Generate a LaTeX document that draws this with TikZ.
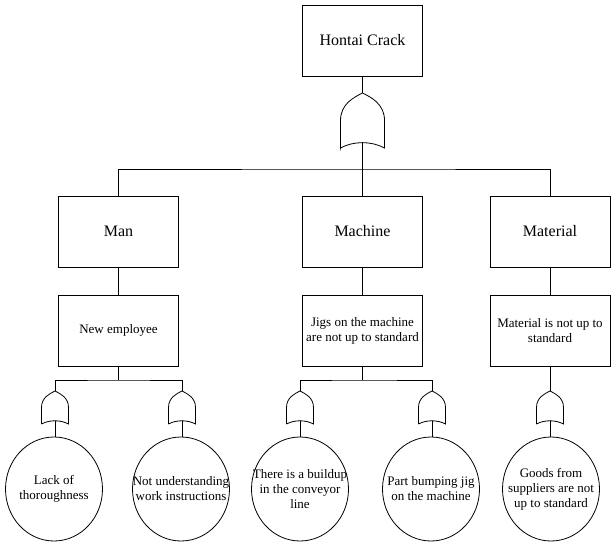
\documentclass[tikz,border=0pt]{standalone}
\usepackage{fontspec}
\setmainfont{Liberation Serif}
\usepackage{tikz}
\usetikzlibrary{shapes.geometric}

% OR gate: name, top x, top y, width, height
\newcommand{\orgate}[5]{%
  \begin{scope}[shift={(#2,#3)}, xscale=#4, yscale=#5]
    \draw[fill=white] (-0.5,1) -- (-0.5,0.5) .. controls (-0.5,0.2) and (-0.2,0.08) .. (0,0)
      .. controls (0.2,0.08) and (0.5,0.2) .. (0.5,0.5) -- (0.5,1)
      .. controls (0.2,0.87) and (-0.2,0.87) .. cycle;
    \coordinate (#1-in) at (0,0);
    \coordinate (#1-out) at (0,0.9);
  \end{scope}}

\begin{document}
\begin{tikzpicture}[x=1pt, y=-1pt, line width=0.8pt,
    bigbox/.style={draw, rectangle, minimum width=120pt, minimum height=71pt,
      inner sep=2pt, font=\fontsize{16}{19}\selectfont},
    smallbox/.style={draw, rectangle, minimum width=120pt, minimum height=71pt,
      inner sep=2pt, align=center, font=\fontsize{13}{15}\selectfont},
    event/.style={draw, ellipse, minimum width=97pt, minimum height=104pt,
      inner xsep=-20pt, inner ysep=-12pt, align=center,
      font=\fontsize{13}{15}\selectfont}]
    \useasboundingbox (0,0) rectangle (614,543);

    \node [bigbox] (top) at (362.5,40.5) {Hontai Crack};
    \node [bigbox] (man) at (118.5,231.5) {Man};
    \node [bigbox] (machine) at (362.5,231.5) {Machine};
    \node [bigbox] (material) at (550,231.5) {Material};

    \node [smallbox] (newemp) at (118.5,330.5) {New employee};
    \node [smallbox] (jigs) at (362.5,330.5) {Jigs on the machine\\are not up to standard};
    \node [smallbox] (matstd) at (550,330.5) {Material is not up to\\standard};

    \orgate{g0}{362.5}{93}{44}{55}
    \orgate{g1}{55}{391}{27}{33}
    \orgate{g2}{182}{391}{27}{33}
    \orgate{g3}{300}{391}{27}{33}
    \orgate{g4}{432}{391}{27}{33}
    \orgate{g5}{550}{391}{27}{33}

    \node [event] (lack) at (54,489) {Lack of\\thoroughness};
    \node [event] (notund) at (181,489) {Not understanding\\work instructions};
    \node [event] (buildup) at (300,489) {There is a buildup\\in the conveyor\\line};
    \node [event] (bump) at (431,489) {Part bumping jig\\on the machine};
    \node [event] (goods) at (551,489) {Goods from\\suppliers are not\\up to standard};

    \coordinate (bar) at (362.5,169);
    \coordinate (split1) at (118.5,380);
    \coordinate (split2) at (362.5,380);

    \draw (top.south) -- (g0-in);
    \draw (g0-out) -- (machine.north);
    \draw (man.north) |- (bar) -| (material.north);

    \draw (man.south) -- (newemp.north);
    \draw (machine.south) -- (jigs.north);
    \draw (material.south) -- (matstd.north);

    \draw (newemp.south) -- (split1);
    \draw (g1-in) |- (split1) -| (g2-in);
    \draw (jigs.south) -- (split2);
    \draw (g3-in) |- (split2) -| (g4-in);
    \draw (matstd.south) -- (g5-in);

    \draw (g1-out) -- (g1-out |- lack.north);
    \draw (g2-out) -- (g2-out |- notund.north);
    \draw (g3-out) -- (buildup.north);
    \draw (g4-out) -- (g4-out |- bump.north);
    \draw (g5-out) -- (g5-out |- goods.north);
\end{tikzpicture}
\end{document}
